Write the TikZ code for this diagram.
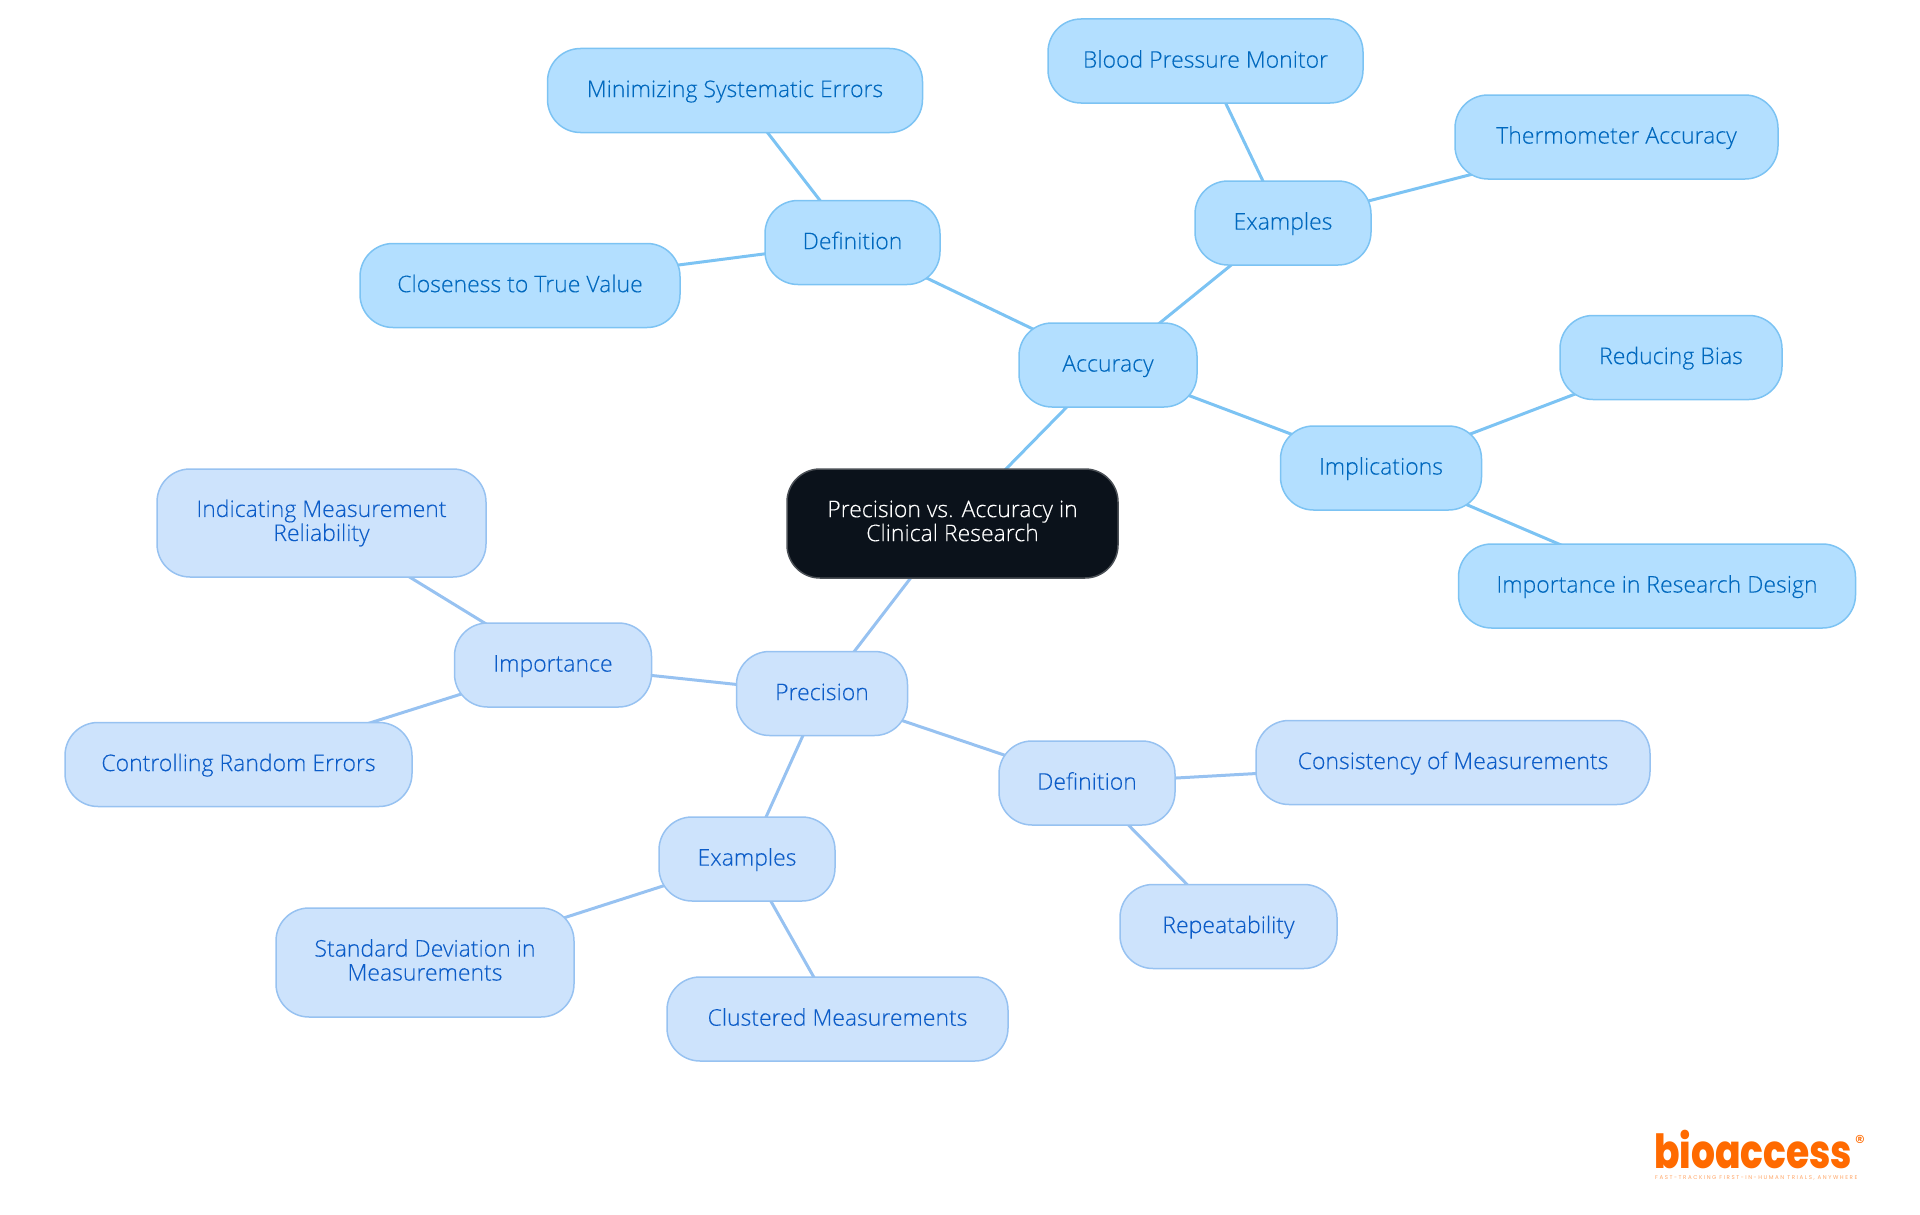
\documentclass[tikz,border=0pt]{standalone}
\usepackage{fontspec}
\setmainfont[FakeBold=0.18]{Open Sans Light}
\newfontfamily\logofont[BoldFont={Poppins ExtraBold}]{Poppins}
\newfontfamily\tagfont[LetterSpace=28]{Poppins}
\usetikzlibrary{backgrounds}
\definecolor{rootfill}{HTML}{0B121B}
\definecolor{rootline}{HTML}{4A4F55}
\definecolor{accfill}{HTML}{B3DFFF}
\definecolor{accline}{HTML}{7CC3F3}
\definecolor{acctext}{HTML}{0068BE}
\definecolor{prefill}{HTML}{CDE3FC}
\definecolor{preline}{HTML}{97C2F1}
\definecolor{pretext}{HTML}{0C5CC8}
\definecolor{logoorange}{HTML}{FF6A00}
\newcommand{\linestrut}{\rule[-5.3pt]{0pt}{24pt}}
\newcommand{\rootstrut}{\rule[-5.3pt]{0pt}{28pt}}
\tikzset{
  x=1pt,y=-1pt,
  mapnode/.style={rectangle,rounded corners=33pt,line width=1.5pt,inner sep=0pt,minimum height=84pt,align=center,font=\fontsize{23}{24}\selectfont,execute at end node=\linestrut},
  rootnode/.style={mapnode,fill=rootfill,draw=rootline,text=white,minimum height=109pt,execute at begin node=\rootstrut},
  accnode/.style={mapnode,fill=accfill,draw=accline,text=acctext,execute at begin node=\linestrut},
  prenode/.style={mapnode,fill=prefill,draw=preline,text=pretext,execute at begin node=\linestrut},
  accedge/.style={draw=accline,line width=3pt},
  preedge/.style={draw=preline,line width=3pt},
}
\begin{document}
\begin{tikzpicture}
\useasboundingbox (0,0) rectangle (1920,1215);
\node[rootnode,minimum width=331pt] (root) at (952.5,523.5) {Precision vs. Accuracy in\\Clinical Research};
\node[accnode,minimum width=178pt] (acc) at (1108,365) {Accuracy};
\node[accnode,minimum width=175pt] (adef) at (852.5,242.5) {Definition};
\node[accnode,minimum width=375pt] (amin) at (735,90.5) {Minimizing Systematic Errors};
\node[accnode,minimum width=320pt] (aclo) at (520,285.5) {Closeness to True Value};
\node[accnode,minimum width=176pt] (aex) at (1283,223) {Examples};
\node[accnode,minimum width=315pt] (ablo) at (1205.5,61) {Blood Pressure Monitor};
\node[accnode,minimum width=323pt] (athe) at (1616.5,137) {Thermometer Accuracy};
\node[accnode,minimum width=201pt] (aimp) at (1381,468) {Implications};
\node[accnode,minimum width=222pt] (ared) at (1671,357.5) {Reducing Bias};
\node[accnode,minimum width=397pt] (ades) at (1657,586) {Importance in Research Design};
\node[prenode,minimum width=171pt] (pre) at (822,693.5) {Precision};
\node[prenode,minimum width=197pt] (pimp) at (553,665) {Importance};
\node[prenode,minimum width=329pt,minimum height=108pt] (pind) at (321.5,523) {Indicating Measurement\\Reliability};
\node[prenode,minimum width=347pt] (pcon) at (238.5,764.5) {Controlling Random Errors};
\node[prenode,minimum width=176pt] (pdef) at (1087,783) {Definition};
\node[prenode,minimum width=394pt] (pcns) at (1453,762.5) {Consistency of Measurements};
\node[prenode,minimum width=217pt] (prep) at (1228.5,926.5) {Repeatability};
\node[prenode,minimum width=176pt] (pex) at (747,859) {Examples};
\node[prenode,minimum width=298pt,minimum height=109pt] (psta) at (425,962.5) {Standard Deviation in\\Measurements};
\node[prenode,minimum width=341pt] (pclu) at (837.5,1019) {Clustered Measurements};
\begin{scope}[on background layer]
\path[accedge] (root.center) -- (acc.center);
\path[accedge] (acc.center) -- (adef.center);
\path[accedge] (adef.center) -- (amin.center);
\path[accedge] (adef.center) -- (aclo.center);
\path[accedge] (acc.center) -- (aex.center);
\path[accedge] (aex.center) -- (ablo.center);
\path[accedge] (aex.center) -- (athe.center);
\path[accedge] (acc.center) -- (aimp.center);
\path[accedge] (aimp.center) -- (ared.center);
\path[accedge] (aimp.center) -- (ades.center);
\path[preedge] (root.center) -- (pre.center);
\path[preedge] (pre.center) -- (pimp.center);
\path[preedge] (pimp.center) -- (pind.center);
\path[preedge] (pimp.center) -- (pcon.center);
\path[preedge] (pre.center) -- (pdef.center);
\path[preedge] (pdef.center) -- (pcns.center);
\path[preedge] (pdef.center) -- (prep.center);
\path[preedge] (pre.center) -- (pex.center);
\path[preedge] (pex.center) -- (psta.center);
\path[preedge] (pex.center) -- (pclu.center);
\end{scope}
\node[inner sep=0pt,anchor=base west,text=logoorange,font=\logofont\bfseries\fontsize{47}{47}\selectfont,xscale=0.8] (logo) at (1654,1168) {bioaccess};
\node[inner sep=0pt,anchor=center,text=logoorange,font=\logofont\fontsize{20}{20}\selectfont] (logor) at (1860,1142) {®};
\node[inner sep=0pt,anchor=base west,text=logoorange!60,font=\tagfont\fontsize{5.5}{6}\selectfont] (logotag) at (1655,1179) {FAST-TRACKING FIRST-IN-HUMAN TRIALS, ANYWHERE};
\end{tikzpicture}
\end{document}
